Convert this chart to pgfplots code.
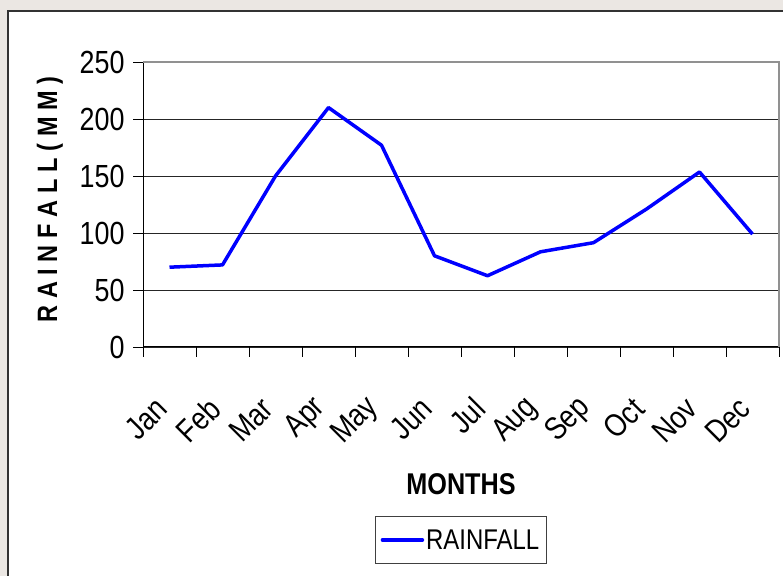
\documentclass[border=0pt]{standalone}
\usepackage{pgfplots}
\pgfplotsset{compat=1.18}
\usepackage{fontspec}
\setmainfont{Liberation Sans}[FakeStretch=0.84]
\definecolor{bgcol}{RGB}{235,231,227}
\definecolor{panelcol}{RGB}{50,50,50}
\definecolor{boxgray}{RGB}{145,145,145}
\newcommand{\gap}{\hspace{0.24em}}
\begin{document}
\begin{tikzpicture}[x=1bp,y=1bp]
\fill[bgcol] (0,0) rectangle (783,576);
\fill[white] (8,0) rectangle (783,565);
\draw[line width=1.6bp, panelcol] (8,0) -- (8,565) -- (783,565);
\begin{axis}[
  at={(143bp,229bp)}, anchor=south west,
  scale only axis, width=636bp, height=285bp,
  xmin=0, xmax=12, ymin=0, ymax=250,
  axis x line*=bottom, axis y line*=left,
  axis line style={black, line width=1bp, -},
  xtick={0,1,...,12},
  xticklabels={Jan,Feb,Mar,Apr,May,Jun,Jul,Aug,Sep,Oct,Nov,Dec,{}},
  ytick={0,50,...,250},
  tick align=outside,
  major tick length=10bp,
  tick style={black, line width=0.8bp},
  ymajorgrids,
  grid style={black!85, line width=0.8bp},
  /pgf/number format/assume math mode=true,
  tick label style={font=\fontsize{32bp}{36bp}\selectfont},
  yticklabel style={xshift=-5bp},
  xticklabel style={yshift=-44bp, xshift=21bp, rotate=45, anchor=east},
  xlabel={MONTHS},
  ylabel={R\gap A\gap I\gap N\gap F\gap A\gap L\gap L\gap (\gap M\gap M\gap )},
  every axis x label/.style={at={(rel axis cs:0.5,0)}, yshift=-137bp, anchor=center, font=\bfseries\fontsize{30bp}{36bp}\selectfont},
  every axis y label/.style={at={(rel axis cs:0,0.5)}, xshift=-93bp, yshift=5bp, rotate=90, anchor=center, font=\bfseries\fontsize{28bp}{34bp}\selectfont},
  legend style={at={(rel axis cs:0.5,0)}, yshift=-193bp, anchor=center,
    draw=black!75, line width=0.9bp, inner xsep=5bp, inner ysep=11bp,
    font=\fontsize{28.5bp}{34bp}\selectfont},
  legend image code/.code={\draw[#1, line cap=round] (0bp,0bp) -- (40bp,0bp);},
  clip=false,
]
\addplot[color={rgb,255:red,0;green,0;blue,255}, line width=3.5bp, line join=round] coordinates {
(0.5,70) (1.5,72) (2.5,150) (3.5,210) (4.5,177) (5.5,80) (6.5,62.5) (7.5,83.5) (8.5,91.5) (9.5,121) (10.5,153.5) (11.5,99)
};
\addlegendentry{RAINFALL}
\draw[boxgray, line width=1.5bp] (rel axis cs:0,1) -- (rel axis cs:1,1) -- (rel axis cs:1,0);
\end{axis}
\pgfresetboundingbox
\useasboundingbox (0,0) rectangle (783,576);
\end{tikzpicture}
\end{document}
